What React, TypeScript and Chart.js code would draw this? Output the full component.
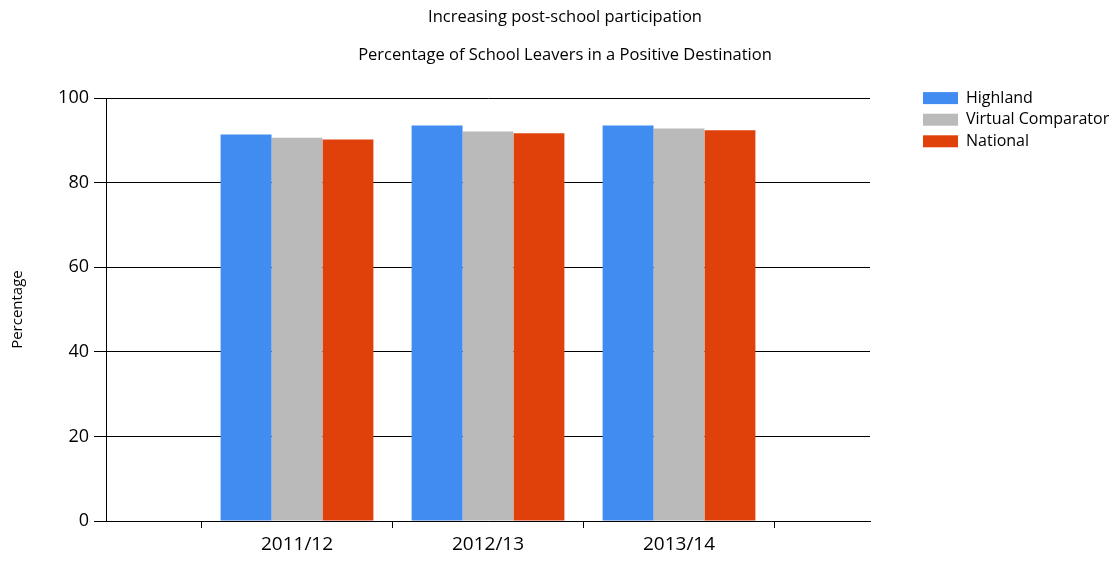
import React, { useEffect, useRef } from "react";
import { Chart, registerables } from "chart.js";

Chart.register(...registerables);

const categories = ["2011/12", "2012/13", "2013/14"];
const seriesNames = ["Highland", "Virtual Comparator", "National"];
const highland = [91.4, 93.5, 93.5];
const virtualComparator = [90.6, 92.1, 92.8];
const national = [90.2, 91.7, 92.4];
const seriesColors = ["#418CF0", "#BABABA", "#E0400A"];
const yTicks = [0, 20, 40, 60, 80, 100];
const titleText = "Increasing post-school participation";
const subtitleText = "Percentage of School Leavers in a Positive Destination";
const yTitle = "Percentage";

const FONT = "'Open Sans', 'DejaVu Sans', sans-serif";

// pad category axis with empty slots at both ends
const padded = (arr: (number | string)[]) => [null, ...arr, null];

const sideLegend = {
  id: "sideLegend",
  afterDraw(chart: any) {
    const { ctx, chartArea } = chart;
    const x0 = chartArea.right + 53;
    const y0 = chartArea.top;
    ctx.save();
    ctx.font = `16px ${FONT}`;
    ctx.textBaseline = "middle";
    ctx.textAlign = "left";
    chart.data.datasets.forEach((ds: any, i: number) => {
      const y = y0 + i * 21.6;
      ctx.fillStyle = ds.backgroundColor;
      ctx.fillRect(x0, y - 6, 35, 12);
      ctx.fillStyle = "#000";
      ctx.fillText(ds.label, x0 + 43, y);
    });
    ctx.restore();
  },
};

export default function App() {
  const ref = useRef<HTMLCanvasElement | null>(null);
  useEffect(() => {
    if (!ref.current) return;
    const values = [highland, virtualComparator, national];
    const chart = new Chart(ref.current, {
      type: "bar",
      data: {
        labels: ["", ...categories, ""],
        datasets: seriesNames.map((name, i) => ({
          label: name,
          data: padded(values[i]) as any,
          backgroundColor: seriesColors[i],
          borderWidth: 0,
          categoryPercentage: 0.8,
          barPercentage: 1,
        })),
      },
      options: {
        animation: false,
        responsive: false,
        devicePixelRatio: 1,
        layout: { padding: { left: 14, right: 0, top: 0, bottom: 0 } },
        plugins: {
          legend: { display: false },
          tooltip: { enabled: false },
          title: {
            display: true,
            text: titleText,
            color: "#000",
            font: { family: FONT, size: 16.5, weight: "normal" },
            padding: { top: 7, bottom: 8 },
          },
          subtitle: {
            display: true,
            text: subtitleText,
            color: "#000",
            font: { family: FONT, size: 16.5, weight: "normal" },
            padding: { top: 11, bottom: 32.5 },
          },
        },
        scales: {
          x: {
            type: "category",
            offset: false,
            grid: {
              offset: true,
              drawOnChartArea: false,
              drawTicks: true,
              tickLength: 7,
              color: "#000",
            },
            border: { display: true, color: "#000", width: 1 },
            ticks: {
              color: "#000",
              font: { family: FONT, size: 19 },
              padding: 5,
              maxRotation: 0,
              autoSkip: false,
            },
            afterFit: (s: any) => {
              s.height = 42;
            },
          },
          y: {
            min: 0,
            max: 100,
            afterBuildTicks: (s: any) => {
              s.ticks = yTicks.map((v) => ({ value: v }));
            },
            grid: { color: "#000", tickLength: 12, drawTicks: true },
            border: { display: true, color: "#000", width: 1 },
            ticks: {
              color: "#000",
              font: { family: FONT, size: 18 },
              padding: 5,
            },
            title: {
              display: true,
              text: yTitle,
              color: "#000",
              font: { family: FONT, size: 15 },
              padding: { top: -5, bottom: 0 },
            },
            afterFit: (s: any) => {
              s.width = 92;
            },
          },
          spacer: {
            type: "linear",
            position: "right",
            display: true,
            grid: { display: false, drawTicks: false },
            border: { display: false },
            ticks: { display: false },
            afterFit: (s: any) => {
              s.width = 246;
            },
          },
        },
      } as any,
      plugins: [sideLegend],
    });
    return () => chart.destroy();
  }, []);
  return (
    <div style={{ position: "absolute", left: 0, top: 0, width: 1116, height: 563, background: "#fff" }}>
      <canvas ref={ref} width={1116} height={563} style={{ display: "block" }} />
    </div>
  );
}
